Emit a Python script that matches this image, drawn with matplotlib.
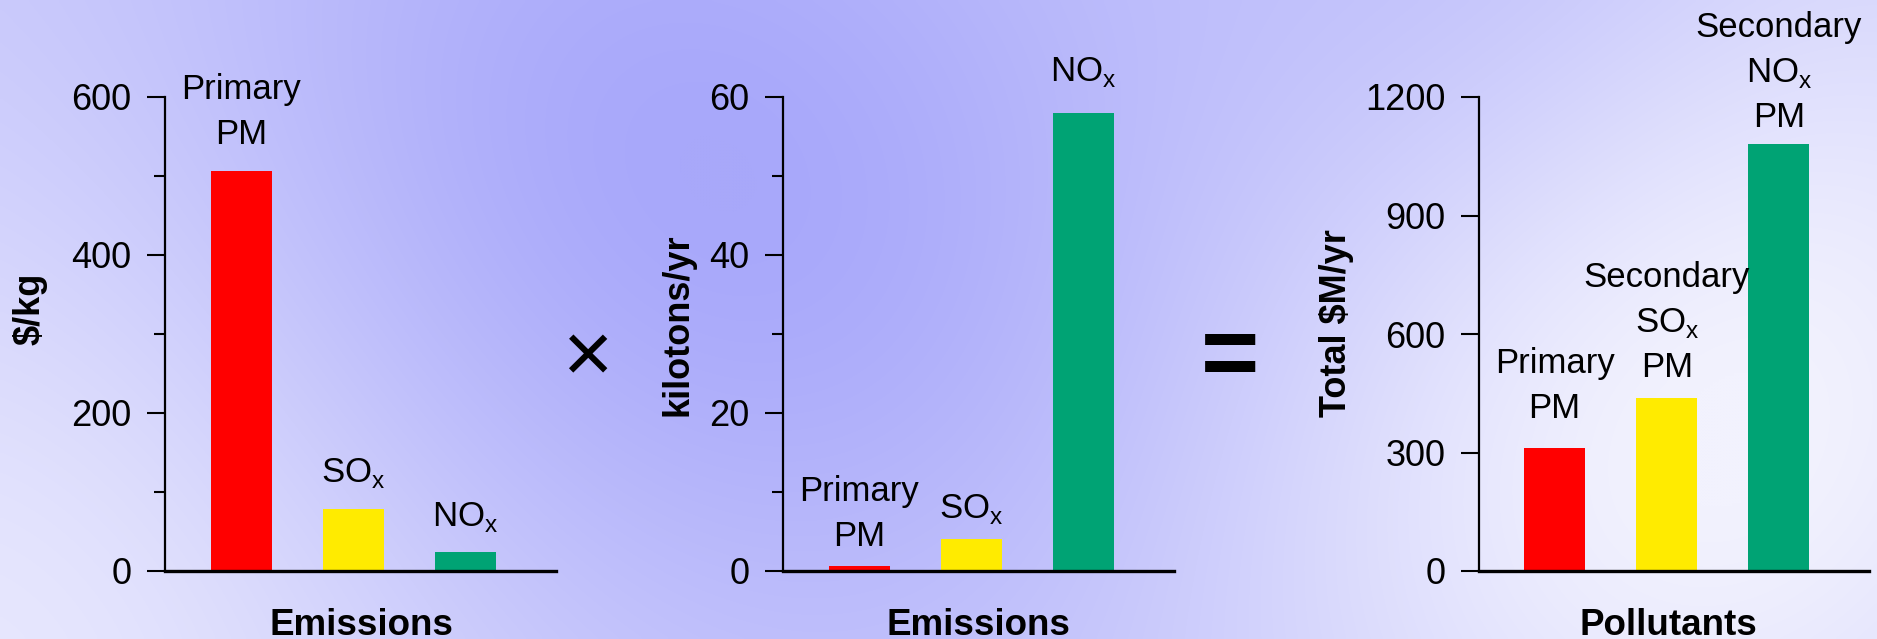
import numpy as np
import matplotlib
matplotlib.use("Agg")
import matplotlib.pyplot as plt

# ---------------- data ----------------
cost_labels = [["Primary", "PM"], ["SO$_\\mathdefault{x}$"], ["NO$_\\mathdefault{x}$"]]
cost_per_kg = [506, 79, 24]

emission_labels = [["Primary", "PM"], ["SO$_\\mathdefault{x}$"], ["NO$_\\mathdefault{x}$"]]
emissions_kt = [0.6, 4.05, 58.0]

total_labels = [["Primary", "PM"],
                ["Secondary", "SO$_\\mathdefault{x}$", "PM"],
                ["Secondary", "NO$_\\mathdefault{x}$", "PM"]]
total_musd = [312, 437, 1081]

bar_colors = ["#FF0000", "#FFEB00", "#00A374"]

# ---------------- style ----------------
W, H = 1877, 639
plt.rcParams["mathtext.fontset"] = "custom"
plt.rcParams["mathtext.rm"] = "Liberation Sans Narrow"
plt.rcParams["mathtext.it"] = "Liberation Sans Narrow"
plt.rcParams["font.family"] = ["Liberation Sans", "DejaVu Sans"]

fig = plt.figure(figsize=(W / 100, H / 100), dpi=100)

# background gradient
yy, xx = np.mgrid[0:H:3, 0:W:3].astype(float)
t = np.full(xx.shape, 0.42)


def blob(cx, cy, s, a):
    return a * np.exp(-((xx - cx) ** 2 + (yy - cy) ** 2) / (2 * s * s))


t += blob(620, 170, 330, -0.42)
t += blob(980, 330, 260, -0.12)
t += blob(0, 660, 380, 0.45)
t += blob(1680, 470, 330, 0.55)
t += blob(1500, 0, 220, -0.18)
t += blob(1877, 150, 260, 0.15)
t = np.clip(t, 0, 1)
dark = np.array([168, 168, 250]) / 255
light = np.array([242, 242, 254]) / 255
img = dark + t[..., None] * (light - dark)
bg = fig.add_axes([0, 0, 1, 1], zorder=-10)
bg.imshow(img, aspect="auto", interpolation="bicubic", extent=[0, 1, 0, 1])
bg.axis("off")

narrow = ["Liberation Sans Narrow", "Liberation Sans"]


def panel(left_px, values, labels, ymax, major, minor, ylabel, ylab_xy,
          xlabel, xlab_x, offsets):
    ax = fig.add_axes([left_px / W, (H - 571) / H, 391 / W, 474 / H])
    ax.patch.set_alpha(0)
    x = np.arange(len(values))
    ax.bar(x, values, width=0.545, color=bar_colors, zorder=2)
    ax.set_xlim(-0.68, 2.81)
    ax.set_ylim(0, ymax)
    ax.set_yticks(np.arange(0, ymax + 1, major))
    if minor:
        ax.set_yticks(np.arange(minor, ymax, major), minor=True)
    ax.set_xticks([])
    for s in ("top", "right"):
        ax.spines[s].set_visible(False)
    ax.spines["left"].set_linewidth(1.6)
    ax.spines["bottom"].set_linewidth(2.4)
    ax.tick_params(axis="y", which="major", length=13, width=1.5, pad=11,
                   labelsize=26, direction="out")
    ax.tick_params(axis="y", which="minor", length=8, width=1.5, direction="out")
    # y label
    ax.set_ylabel(ylabel, fontsize=26, fontweight="bold", va="center", ha="center")
    ax.yaxis.set_label_coords((ylab_xy[0] - left_px) / 391, (571 - ylab_xy[1]) / 474)
    # x label
    ax.set_xlabel(xlabel, fontsize=26.5, fontweight="bold", va="baseline")
    ax.xaxis.set_label_coords((xlab_x - left_px) / 391, (571 - 635) / 474)
    # bar labels
    for i, (v, lines) in enumerate(zip(values, labels)):
        for k, line in enumerate(reversed(lines)):
            ax.annotate(line, xy=(i, v), xycoords="data",
                        xytext=(0, offsets[i] + 45 * k), textcoords="offset pixels",
                        ha="center", va="baseline", fontsize=25,
                        family=narrow, annotation_clip=False)
    return ax


panel(165, cost_per_kg, cost_labels, 600, 200, 100, "$/kg", (30, 309),
      "Emissions", 361, [27, 27, 26])
panel(783, emissions_kt, emission_labels, 60, 20, 10, "kilotons/yr", (678, 325),
      "Emissions", 978, [20, 21, 32])
panel(1478.5, total_musd, total_labels, 1200, 300, None, "Total $M/yr", (1336, 323),
      "Pollutants", 1668, [30, 21, 17])

# operators
fig.text(587.5 / W, 1 - 351 / H, "\u00d7", fontsize=62, ha="center", va="center_baseline",
         family=["Liberation Sans"])
fig.text(1230 / W, 1 - 350 / H, "=", fontsize=72, fontweight="bold", ha="center",
         va="center_baseline", family=["Liberation Sans"])

fig.savefig("out.png", dpi=100)
